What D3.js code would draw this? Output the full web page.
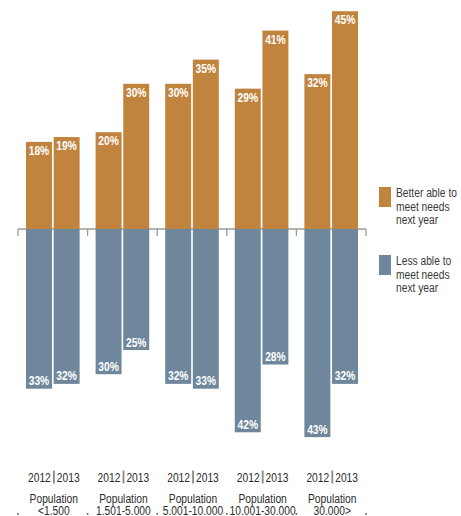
<!DOCTYPE html>
<html><head><meta charset="utf-8">
<script src="https://cdn.jsdelivr.net/npm/d3@7"></script>
<style>
html,body{margin:0;padding:0;background:#fff;}
svg{display:block;}
text{font-family:"Liberation Sans",Arial,sans-serif;}
</style></head>
<body>
<svg id="c" width="461" height="516"></svg>
<script>
const groups = ["<1.500","1.501-5.000","5.001-10.000","10.001-30.000","30.000>"];
const years = ["2012","2013"];
const better2012 = [18,20,30,29,32];
const better2013 = [19,30,35,41,45];
const less2012 = [33,30,32,42,43];
const less2013 = [32,25,33,28,32];
const legendLabels = [["Better able to","meet needs","next year"],["Less able to","meet needs","next year"]];

const ORANGE = "#C1843F", BLUE = "#6F879C";
const SX = 0.82; // condensed look
const svg = d3.select("#c");
const place = (fx, fy) => function(d,i){ return `translate(${fx(d,i)},${fy(d,i)}) scale(${SX},1)`; };

const x0 = d3.scaleBand().domain(groups).range([18,366]);
const x1 = d3.scaleBand().domain(years).range([8, 61.6]).paddingInner(0.06);
const y = d3.scaleLinear().domain([-45,45]).range([446.8, 11.2]);
const y0 = y(0);

const bounds = groups.map(g => x0(g)).concat([x0.range()[1]]);
svg.append("line").attr("x1",bounds[0]).attr("x2",bounds[bounds.length-1])
  .attr("y1",y0).attr("y2",y0).attr("stroke","#9a9a9a").attr("stroke-width",1.3);
svg.selectAll(".tk").data(bounds).join("line")
  .attr("x1",d=>d).attr("x2",d=>d).attr("y1",y0).attr("y2",y0+7)
  .attr("stroke","#9a9a9a").attr("stroke-width",1.3);

const rows = [];
groups.forEach((g,i)=>{
  rows.push({g, yr:"2012", b:better2012[i], l:less2012[i]});
  rows.push({g, yr:"2013", b:better2013[i], l:less2013[i]});
});
const bx = d => x0(d.g) + x1(d.yr);
const bw = x1.bandwidth();

svg.selectAll(".pb").data(rows).join("rect")
  .attr("x",bx).attr("width",bw)
  .attr("y",d=>y(d.b)).attr("height",d=>y0-y(d.b)).attr("fill",ORANGE);
svg.selectAll(".nb").data(rows).join("rect")
  .attr("x",bx).attr("width",bw)
  .attr("y",y0).attr("height",d=>y(-d.l)-y0).attr("fill",BLUE);

svg.selectAll(".pl").data(rows).join("text")
  .attr("transform",place(d=>bx(d)+bw/2, d=>y(d.b)+13))
  .attr("text-anchor","middle").attr("fill","#fff").attr("font-weight","bold")
  .attr("font-size",12.5).text(d=>d.b+"%");
svg.selectAll(".nl").data(rows).join("text")
  .attr("transform",place(d=>bx(d)+bw/2, d=>y(-d.l)-3.5))
  .attr("text-anchor","middle").attr("fill","#fff").attr("font-weight","bold")
  .attr("font-size",12.5).text(d=>d.l+"%");

const gc = g => x0(g) + x0.bandwidth()/2 + 1;
const yl = svg.selectAll(".yl").data(groups).join("g");
yl.append("text").attr("transform",place(g=>gc(g)-3, ()=>481.7)).attr("text-anchor","end")
  .attr("font-size",12.5).attr("fill","#2b2b2b").text(years[0]);
yl.append("rect").attr("x",g=>gc(g)-0.8).attr("y",470.5).attr("width",1.8).attr("height",13)
  .attr("fill","#8a8a8a");
yl.append("text").attr("transform",place(g=>gc(g)+3, ()=>481.7)).attr("text-anchor","start")
  .attr("font-size",12.5).attr("fill","#2b2b2b").text(years[1]);

svg.selectAll(".p1").data(groups).join("text")
  .attr("transform",place(gc, ()=>502.5)).attr("text-anchor","middle")
  .attr("font-size",12.5).attr("fill","#2b2b2b").text("Population");
svg.selectAll(".p2").data(groups).join("text")
  .attr("transform",place(gc, ()=>515)).attr("text-anchor","middle")
  .attr("font-size",12.5).attr("fill","#2b2b2b").text(g=>g);

svg.selectAll(".dt").data(bounds).join("rect")
  .attr("x",d=>d-0.7).attr("y",513).attr("width",1.4).attr("height",1.8).attr("fill","#555");

const leg = svg.selectAll(".lg").data([ORANGE,BLUE]).join("g")
  .attr("transform",(d,i)=>`translate(379,${187+i*68})`);
leg.append("rect").attr("width",12).attr("height",20).attr("fill",d=>d);
leg.each(function(d,i){
  const t = d3.select(this).append("text").attr("font-size",12.5).attr("fill","#3a3a3a")
    .attr("transform",`translate(17,0) scale(${SX},1)`);
  legendLabels[i].forEach((s,j)=>{
    t.append("tspan").attr("x",0).attr("y",10+j*13.7).text(s);
  });
});
</script>
</body></html>
